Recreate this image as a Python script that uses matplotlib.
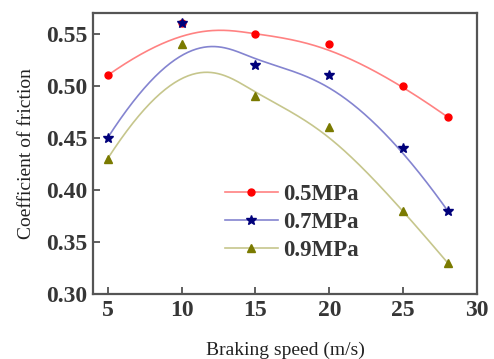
import numpy as np
import matplotlib
matplotlib.use("Agg")
import matplotlib.pyplot as plt

speed = [5, 10, 15, 20, 25, 28]
mu_05 = [0.51, 0.56, 0.55, 0.54, 0.50, 0.47]
mu_07 = [0.45, 0.56, 0.52, 0.51, 0.44, 0.38]
mu_09 = [0.43, 0.54, 0.49, 0.46, 0.38, 0.33]
labels = ["0.5MPa", "0.7MPa", "0.9MPa"]

plt.rcParams['font.family'] = ['Liberation Serif', 'DejaVu Serif']


def bspline(px, py, deg=3, num=300):
    """Clamped uniform B-spline using the data points as control points."""
    px = np.asarray(px, float)
    py = np.asarray(py, float)
    n = len(px)
    inner = np.arange(1, n - deg)
    knots = np.concatenate([np.zeros(deg + 1), inner, np.full(deg + 1, n - deg)])
    u = np.linspace(0, n - deg, num)
    u[-1] -= 1e-9
    N = np.zeros((num, len(knots) - 1))
    for i in range(len(knots) - 1):
        N[:, i] = (knots[i] <= u) & (u < knots[i + 1])
    for k in range(1, deg + 1):
        Nn = np.zeros((num, len(knots) - 1 - k))
        for i in range(len(knots) - 1 - k):
            a = np.zeros(num)
            b = np.zeros(num)
            d1 = knots[i + k] - knots[i]
            d2 = knots[i + k + 1] - knots[i + 1]
            if d1 > 0:
                a = (u - knots[i]) / d1 * N[:, i]
            if d2 > 0:
                b = (knots[i + k + 1] - u) / d2 * N[:, i + 1]
            Nn[:, i] = a + b
        N = Nn
    return N @ px, N @ py


fig = plt.figure(figsize=(4.94, 3.59), dpi=100)
ax = fig.add_axes([0.188, 0.181, 0.778, 0.783])

styles = [
    dict(line='#ff8282', mk='#ff0000', marker='o', ms=5),
    dict(line='#8484d0', mk='#00007a', marker='*', ms=7),
    dict(line='#c6c68c', mk='#7a7a00', marker='^', ms=6),
]
for y, lab, st in zip([mu_05, mu_07, mu_09], labels, styles):
    cx, cy = bspline(speed, y)
    ax.plot(cx, cy, color=st['line'], lw=1.2, zorder=2)
    ax.plot(speed, y, linestyle='none', marker=st['marker'], color=st['mk'],
            ms=st['ms'], zorder=3)
    ax.plot([], [], color=st['line'], lw=1.2, marker=st['marker'],
            mfc=st['mk'], mec=st['mk'], ms=st['ms'], label=lab)

ax.set_xlim(4, 30)
ax.set_ylim(0.30, 0.57)
ax.set_xticks([5, 10, 15, 20, 25, 30])
ax.set_yticks([0.30, 0.35, 0.40, 0.45, 0.50, 0.55])
ax.set_yticklabels(["0.30", "0.35", "0.40", "0.45", "0.50", "0.55"])
ax.tick_params(direction='in', length=5, width=1.2, color='#444444',
               labelsize=17, labelcolor='#363636', top=False, right=False, pad=4)
for lbl in ax.get_xticklabels() + ax.get_yticklabels():
    lbl.set_fontweight('bold')
for s in ax.spines.values():
    s.set_color('#555555')
    s.set_linewidth(1.6)

ax.set_xlabel("Braking speed (m/s)", fontsize=14, color='#222222', labelpad=15)
ax.set_ylabel("Coefficient of friction", fontsize=14, color='#222222', labelpad=8)

leg = ax.legend(loc='upper left', bbox_to_anchor=(0.344, 0.39), frameon=False,
                fontsize=16.5, handlelength=2.3, handletextpad=0.25, labelspacing=0.3,
                borderpad=0, borderaxespad=0)
for t in leg.get_texts():
    t.set_color('#363636')
    t.set_fontweight('bold')

fig.savefig("out.png", dpi=100)
